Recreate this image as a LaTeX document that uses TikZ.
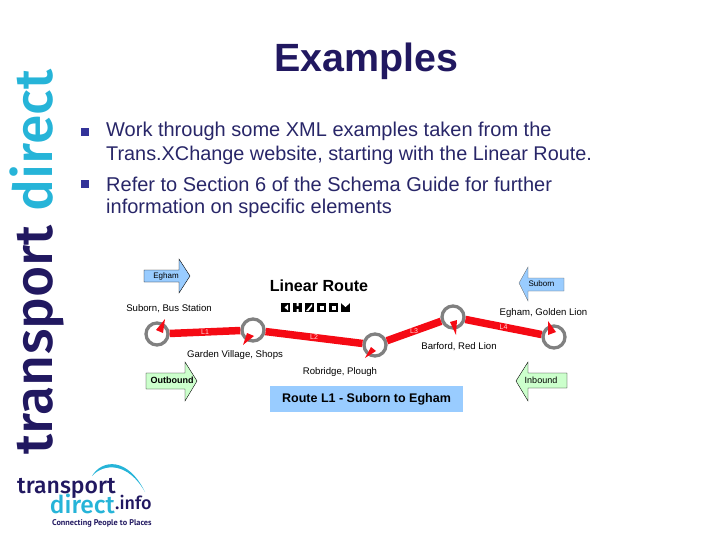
\documentclass[tikz,border=0pt]{standalone}
\usepackage{fontspec}
\usepackage{xcolor}
\setmainfont{Liberation Sans}
\newfontfamily\logofont{Fira Sans Medium}
\newfontfamily\tagfont{PT Sans}
\definecolor{navyblue}{RGB}{33,24,96}
\definecolor{bodyblue}{RGB}{40,38,104}
\definecolor{bulletblue}{RGB}{51,51,153}
\definecolor{logocyan}{RGB}{38,180,216}
\definecolor{lightblue}{RGB}{153,204,255}
\definecolor{lightgreen}{RGB}{204,255,204}
\definecolor{routered}{RGB}{245,10,20}
\definecolor{ringgray}{RGB}{128,128,128}
\newcommand{\px}[1]{\fontsize{#1pt}{#1pt}\selectfont}
\tikzset{
  bodytext/.style={anchor=west, text=bodyblue, inner sep=0pt},
  bulletbox/.style={fill=bulletblue, minimum size=8pt, inner sep=0pt},
  stoplabel/.style={text=black, inner sep=0pt, font=\px{9.6}},
  stopring/.style={circle, draw=ringgray, line width=3.3pt, minimum size=22pt, inner sep=0pt},
  routeline/.style={draw=routered, line width=7.5pt},
  linklabel/.style={text=white!85!red, inner sep=0pt, font=\px{7}},
  pointer/.style={fill=routered},
  arrowtext/.style={inner sep=0pt, font=\px{8}},
}
\begin{document}
\begin{tikzpicture}[x=1pt, y=-1pt]
    \useasboundingbox (0,0) rectangle (720,540);

    % Title
    \node[text=navyblue, inner sep=0pt, font=\px{39.4}\bfseries] (title) at (366,61) {Examples};

    % Bullets
    \node[bulletbox] (bulletone) at (84.5,132) {};
    \node[bulletbox] (bullettwo) at (84.5,184) {};
    \node[bodytext, font=\px{20}] (lineone) at (106,131.5) {Work through some XML examples taken from the};
    \node[bodytext, font=\px{19.85}] (linetwo) at (106,155.5) {Trans.XChange website, starting with the Linear Route.};
    \node[bodytext, font=\px{20}] (linethree) at (106,184.5) {Refer to Section 6 of the Schema Guide for further};
    \node[bodytext, font=\px{20}] (linefour) at (106,208.5) {information on specific elements};

    % Vertical logo
    \node[rotate=90, anchor=base west, inner sep=0pt, font=\logofont\px{53.6}] (sidelogo) at (52,455)
        {\textcolor{navyblue}{transport} \textcolor{logocyan}{direct}};

    % Bottom logo
    \node[anchor=base west, inner sep=0pt, text=navyblue, font=\logofont\px{23}] (logotop) at (17,493) {transport};
    \node[anchor=base east, inner sep=0pt, text=logocyan, font=\logofont\px{24.5}] (logomid) at (115,513) {direct};
    \node[anchor=base west, inner sep=0pt, text=navyblue, font=\logofont\px{18}] (logoinfo) at (115,509) {.info};
    \node[anchor=base west, inner sep=0pt, text=navyblue, font=\tagfont\bfseries\px{8.25}] (logotag) at (52,525) {Connecting People to Places};
    \fill[logocyan] (92,476) .. controls (102,459) and (128,457) .. (145,492)
        .. controls (128,462) and (104,463) .. (92,476) -- cycle;

    % Heading of the route
    \node[inner sep=0pt, font=\px{16.1}\bfseries] (heading) at (319,286) {Linear Route};
    \foreach \i in {0,...,5} {
        \node[fill=black, minimum size=9pt, inner sep=0pt] (icon\i) at (285.5+12*\i,307.5) {};
    }
    \fill[white] (288,304.5) -- (284.5,307.5) -- (288,310.5) -- cycle;
    \fill[white] (296.5,303) rectangle (298.5,306) (296.5,309) rectangle (298.5,312);
    \fill[white] (306,311) -- (312,304) -- (312,306.5) -- (308.5,311) -- cycle;
    \fill[white] (319.5,305.5) rectangle (323.5,309.5);
    \fill[white] (331.5,305.5) rectangle (335.5,309.5);
    \fill[white] (341,303) -- (345.5,307) -- (350,303) -- cycle;

    % Direction arrows
    \draw[fill=lightblue] (144,270) -- (179,270) -- (179,259) -- (190,276) -- (179,293) -- (179,282) -- (144,282) -- cycle;
    \node[arrowtext] (egham) at (166,276) {Egham};

    \draw[fill=lightgreen] (146,373) -- (185,373) -- (185,362) -- (197,381) -- (185,401) -- (185,389) -- (146,389) -- cycle;
    \node[arrowtext, font=\px{9}\bfseries] (outbound) at (172,380.5) {Outbound};

    \draw[fill=lightblue, draw=black!60, line width=0.3pt] (564,278) -- (528,278) -- (528,267) -- (519,283) -- (528,301) -- (528,291) -- (564,291) -- cycle;
    \node[arrowtext] (suborn) at (541.5,283.5) {Suborn};

    \draw[fill=lightgreen] (567,373) -- (528,373) -- (528,362) -- (516,381) -- (528,401) -- (528,388) -- (567,388) -- cycle;
    \node[arrowtext, font=\px{9}] (inbound) at (541,380.5) {Inbound};

    % Stops
    \node[stopring] (subornstop) at (157,334) {};
    \node[stopring] (gardenstop) at (253,330) {};
    \node[stopring] (robridgestop) at (375,345) {};
    \node[stopring] (barfordstop) at (453,317) {};
    \node[stopring] (eghamstop) at (554,337) {};

    % Route links
    \draw[routeline] (subornstop) -- node[linklabel] (linkone) {L1} (gardenstop);
    \draw[routeline] (gardenstop) -- node[linklabel] (linktwo) {L2} (robridgestop);
    \draw[routeline] (robridgestop) -- node[linklabel] (linkthree) {L3} (barfordstop);
    \draw[routeline] (barfordstop) -- node[linklabel] (linkfour) {L4} (eghamstop);

    % Pointers
    \fill[pointer] (165,319) -- (156,330) -- (163,333) -- cycle;
    \fill[pointer] (243,345) -- (247,333) -- (254,336) -- cycle;
    \fill[pointer] (365,358) -- (371,347) -- (376,351) -- cycle;
    \fill[pointer] (456,335) -- (450,322) -- (457,320) -- cycle;
    \fill[pointer] (548,321) -- (548,335) -- (556,332) -- cycle;

    % Stop names
    \node[stoplabel] (subornname) at (169,309) {Suborn, Bus Station};
    \node[stoplabel] (gardenname) at (235,355) {Garden Village, Shops};
    \node[stoplabel] (robridgename) at (340,372) {Robridge, Plough};
    \node[stoplabel] (barfordname) at (459,347) {Barford, Red Lion};
    \node[stoplabel] (eghamname) at (543.5,313.5) {Egham, Golden Lion};

    % Route box
    \node[fill=lightblue, minimum width=193pt, minimum height=26pt, inner sep=0pt, font=\px{12.5}\bfseries] (routebox) at (366.5,399) {Route L1 - Suborn to Egham};
\end{tikzpicture}
\end{document}
